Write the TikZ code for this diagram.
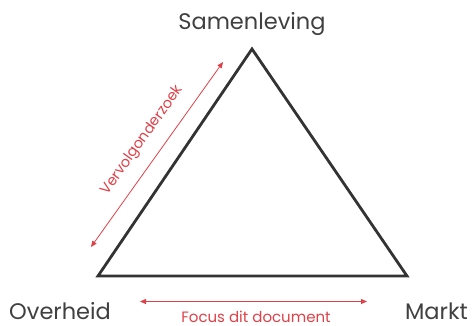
\documentclass[tikz,border=0pt]{standalone}
\usepackage{fontspec}
\setmainfont{Poppins}
\usetikzlibrary{arrows.meta}
\definecolor{tri}{RGB}{51,51,51}
\definecolor{lbl}{RGB}{64,64,64}
\definecolor{accent}{RGB}{222,64,72}
\begin{document}
\begin{tikzpicture}[x=1pt,y=1pt,
  corner/.style={font=\fontsize{22.5}{26}\selectfont,text=lbl,inner sep=0pt},
  note/.style={font=\fontsize{15}{18}\selectfont,text=accent,inner sep=0pt},
  span/.style={accent,line width=0.8pt,{Triangle[length=6pt,width=5pt]}-{Triangle[length=6pt,width=5pt]}}]
\useasboundingbox (0,0) rectangle (472,325);
\coordinate (top) at (252,276);
\coordinate (bl) at (98,49);
\coordinate (br) at (407,49);
\draw[tri,line width=2.8pt,line join=miter] (top) -- (br) -- (bl) -- cycle;
\node[corner,anchor=base] (sam) at (252,296) {Samenleving};
\node[corner,anchor=base west] (ovh) at (9,6) {Overheid};
\node[corner,anchor=base east] (mkt) at (468,6) {Markt};
\coordinate (a1) at (140,23.5);
\coordinate (a2) at (367,23.5);
\draw[span] (a1) -- (a2);
\node[note,anchor=base] (foc) at (256,2.5) {Focus dit document};
\coordinate (b1) at (91,78);
\coordinate (b2) at (223,263);
\draw[span] (b1) -- (b2);
\node[note,font=\fontsize{14.5}{17}\selectfont,rotate=54.5] (ver) at (142.5,184.5) {Vervolgonderzoek};
\end{tikzpicture}
\end{document}
